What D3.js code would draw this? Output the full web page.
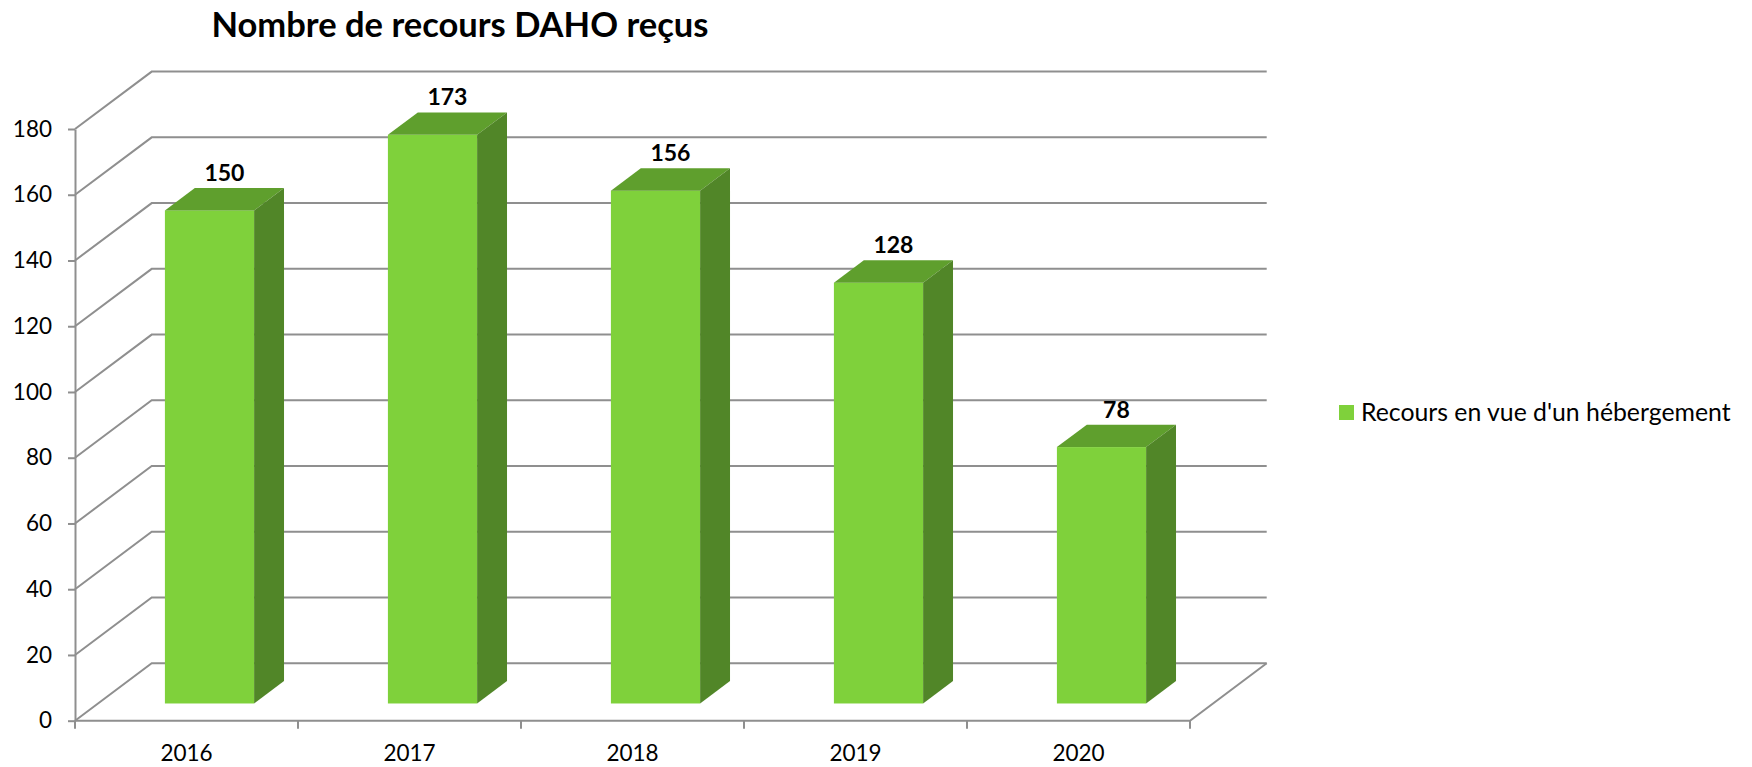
<!DOCTYPE html>
<html>
<head>
<meta charset="utf-8">
<script src="https://cdn.jsdelivr.net/npm/d3@7"></script>
<style>
	body { margin: 0; background: #fff; }
	#graphicContainer { width: 1752px; height: 767px; }
	text { font-family: Lato, "Open Sans", sans-serif; fill: #000; }
</style>
</head>
<body>
<div id="graphicContainer"></div>
<script>

var years = ["2016", "2017", "2018", "2019", "2020"]
var recours = [150, 173, 156, 128, 78]
var yTicks = [0, 20, 40, 60, 80, 100, 120, 140, 160, 180]
var seriesName = "Recours en vue d'un hébergement"
var titleText = "Nombre de recours DAHO reçus"

function init() {

	var width = 1752
	var height = 767

	var svg = d3.select("#graphicContainer").append("svg")
				.attr("width", width)
				.attr("height", height)

	// 3d floor depth
	var depth = {dx: 76.7, dy: -57.4}
	var barFront = 0.3, barDepth = 0.39

	var x = d3.scaleBand()
		.domain(years)
		.range([75, 1190])
		.paddingInner(0.6)
		.paddingOuter(0.3)

	var y = d3.scaleLinear()
		.domain([0, 180])
		.range([720.7, 129])

	var grey = "#8f8f8f"

	// gridlines: side wall diagonal + back wall
	svg.append("g")
		.selectAll("path")
		.data(yTicks)
		.enter()
		.append("path")
		.attr("fill", "none")
		.attr("stroke", grey)
		.attr("stroke-width", 2)
		.attr("d", function(d) {
			var x0 = x.range()[0], x1 = x.range()[1], yy = y(d)
			return "M" + x0 + "," + yy + "L" + (x0 + depth.dx) + "," + (yy + depth.dy) + "L" + (x1 + depth.dx) + "," + (yy + depth.dy)
		})

	// floor front + right edge
	svg.append("path")
		.attr("fill", "none")
		.attr("stroke", grey)
		.attr("stroke-width", 2)
		.attr("d", "M" + x.range()[0] + "," + y(0) + "L" + x.range()[1] + "," + y(0) + "L" + (x.range()[1] + depth.dx) + "," + (y(0) + depth.dy))

	// bars
	var bw = x.bandwidth()
	var ox = barFront * depth.dx, oy = barFront * depth.dy
	var ddx = barDepth * depth.dx, ddy = barDepth * depth.dy

	var bars = svg.append("g")
		.selectAll("g")
		.data(years.map(function(d, i) { return {year: d, value: recours[i]} }))
		.enter()
		.append("g")

	bars.append("rect")
		.attr("x", d => x(d.year) + ox)
		.attr("y", d => y(d.value) + oy)
		.attr("width", bw)
		.attr("height", d => y(0) - y(d.value))
		.attr("fill", "#7fd13b")

	bars.append("path")
		.attr("fill", "#5f9f2d")
		.attr("d", function(d) {
			var x0 = x(d.year) + ox, x1 = x0 + bw, t = y(d.value) + oy
			return "M" + x0 + "," + t + "L" + x1 + "," + t + "L" + (x1 + ddx) + "," + (t + ddy) + "L" + (x0 + ddx) + "," + (t + ddy) + "Z"
		})

	bars.append("path")
		.attr("fill", "#518628")
		.attr("d", function(d) {
			var x1 = x(d.year) + ox + bw, t = y(d.value) + oy, b = y(0) + oy
			return "M" + x1 + "," + t + "L" + (x1 + ddx) + "," + (t + ddy) + "L" + (x1 + ddx) + "," + (b + ddy) + "L" + x1 + "," + b + "Z"
		})

	bars.append("text")
		.attr("x", d => x(d.year) + ox + bw / 2 + ddx / 2)
		.attr("y", d => y(d.value) + oy + ddy - 7)
		.attr("text-anchor", "middle")
		.style("font-size", "23px")
		.style("font-weight", "bold")
		.text(d => d.value)

	// y axis
	var yAxis = svg.append("g")
		.attr("transform", "translate(" + x.range()[0] + ",0)")
		.call(d3.axisLeft(y).tickValues(yTicks).tickSizeInner(7).tickSizeOuter(0).tickPadding(16))

	yAxis.select(".domain").attr("stroke", grey).attr("stroke-width", 2)
	yAxis.selectAll(".tick line").attr("stroke", grey).attr("stroke-width", 2)
	yAxis.selectAll("text").style("font-size", "22.5px").attr("fill", "#000")

	// x axis
	var xAxis = svg.append("g")
		.attr("transform", "translate(0," + y(0) + ")")
		.call(d3.axisBottom(x).tickSize(0).tickPadding(24))

	xAxis.select(".domain").remove()
	xAxis.selectAll("text").style("font-size", "22.5px").attr("fill", "#000")

	svg.append("g")
		.selectAll("line")
		.data(d3.range(years.length + 1))
		.enter()
		.append("line")
		.attr("x1", i => x.range()[0] + i * x.step())
		.attr("x2", i => x.range()[0] + i * x.step())
		.attr("y1", y(0))
		.attr("y2", y(0) + 8)
		.attr("stroke", grey)
		.attr("stroke-width", 2)

	// legend
	svg.append("rect")
		.attr("x", 1339)
		.attr("y", 405)
		.attr("width", 15)
		.attr("height", 15)
		.attr("fill", "#7fd13b")

	svg.append("text")
		.attr("x", 1361)
		.attr("y", 412)
		.attr("dy", "0.35em")
		.style("font-size", "24.8px")
		.text(seriesName)

	// title
	svg.append("text")
		.attr("x", 460)
		.attr("y", 25)
		.attr("dy", "0.35em")
		.attr("text-anchor", "middle")
		.style("font-size", "34.5px")
		.style("font-weight", "bold")
		.text(titleText)

}

init()

</script>
</body>
</html>
